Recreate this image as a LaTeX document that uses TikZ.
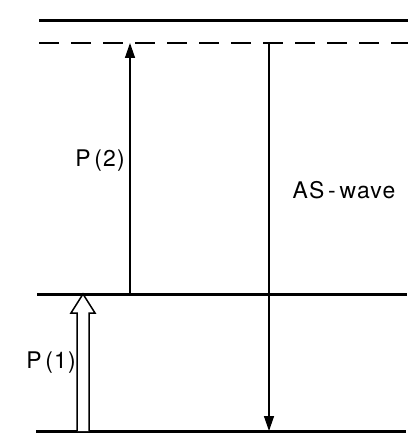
\documentclass[tikz,border=0pt]{standalone}
\usepackage{fontspec}
\setmainfont{TeX Gyre Heros}
\newfontfamily\labfont[LetterSpace=5]{TeX Gyre Heros}
\usetikzlibrary{arrows.meta}
\begin{document}
\begin{tikzpicture}[x=1bp,y=-1bp,
  level/.style={line width=3bp},
  virt/.style={line width=2bp,dash pattern=on 20bp off 12bp},
  trans/.style={line width=1.4bp,-{Triangle[length=15bp,width=10bp]}},
  lbl/.style={font=\labfont\fontsize{23}{27}\selectfont,inner sep=0pt}]
\useasboundingbox (0,0) rectangle (414,442);
% levels
\coordinate (t1) at (39,21);  \coordinate (t2) at (408,21);
\coordinate (d1) at (39,43);  \coordinate (d2) at (408,43);
\coordinate (m1) at (37,294); \coordinate (m2) at (407,294);
\coordinate (b1) at (36,431); \coordinate (b2) at (406,431);
\draw[level] (t1) -- (t2);
\draw[virt] (d1) -- (d2);
\draw[level] (m1) -- (m2);
\draw[level] (b1) -- (b2);
% transitions
\coordinate (p2s) at (130,294); \coordinate (p2e) at (130,43);
\coordinate (ass) at (269,43); \coordinate (ase) at (269,431);
\draw[trans] (p2s) -- (p2e);
\draw[trans] (ass) -- (ase);
% hollow arrow P(1)
\coordinate (p1tip) at (83,294);
\draw[line width=1.5bp,fill=white,line join=miter]
  (77,431) -- (77,313) -- (71,313) -- (p1tip) -- (95,313) -- (89,313) -- (89,431);
% labels
\node[lbl] (lp2) at (100,161) {P\,(2)};
\node[lbl] (las) at (344,190) {AS\,-\,wave};
\node[lbl] (lp1) at (51,363) {P\,(1)};
\end{tikzpicture}
\end{document}
